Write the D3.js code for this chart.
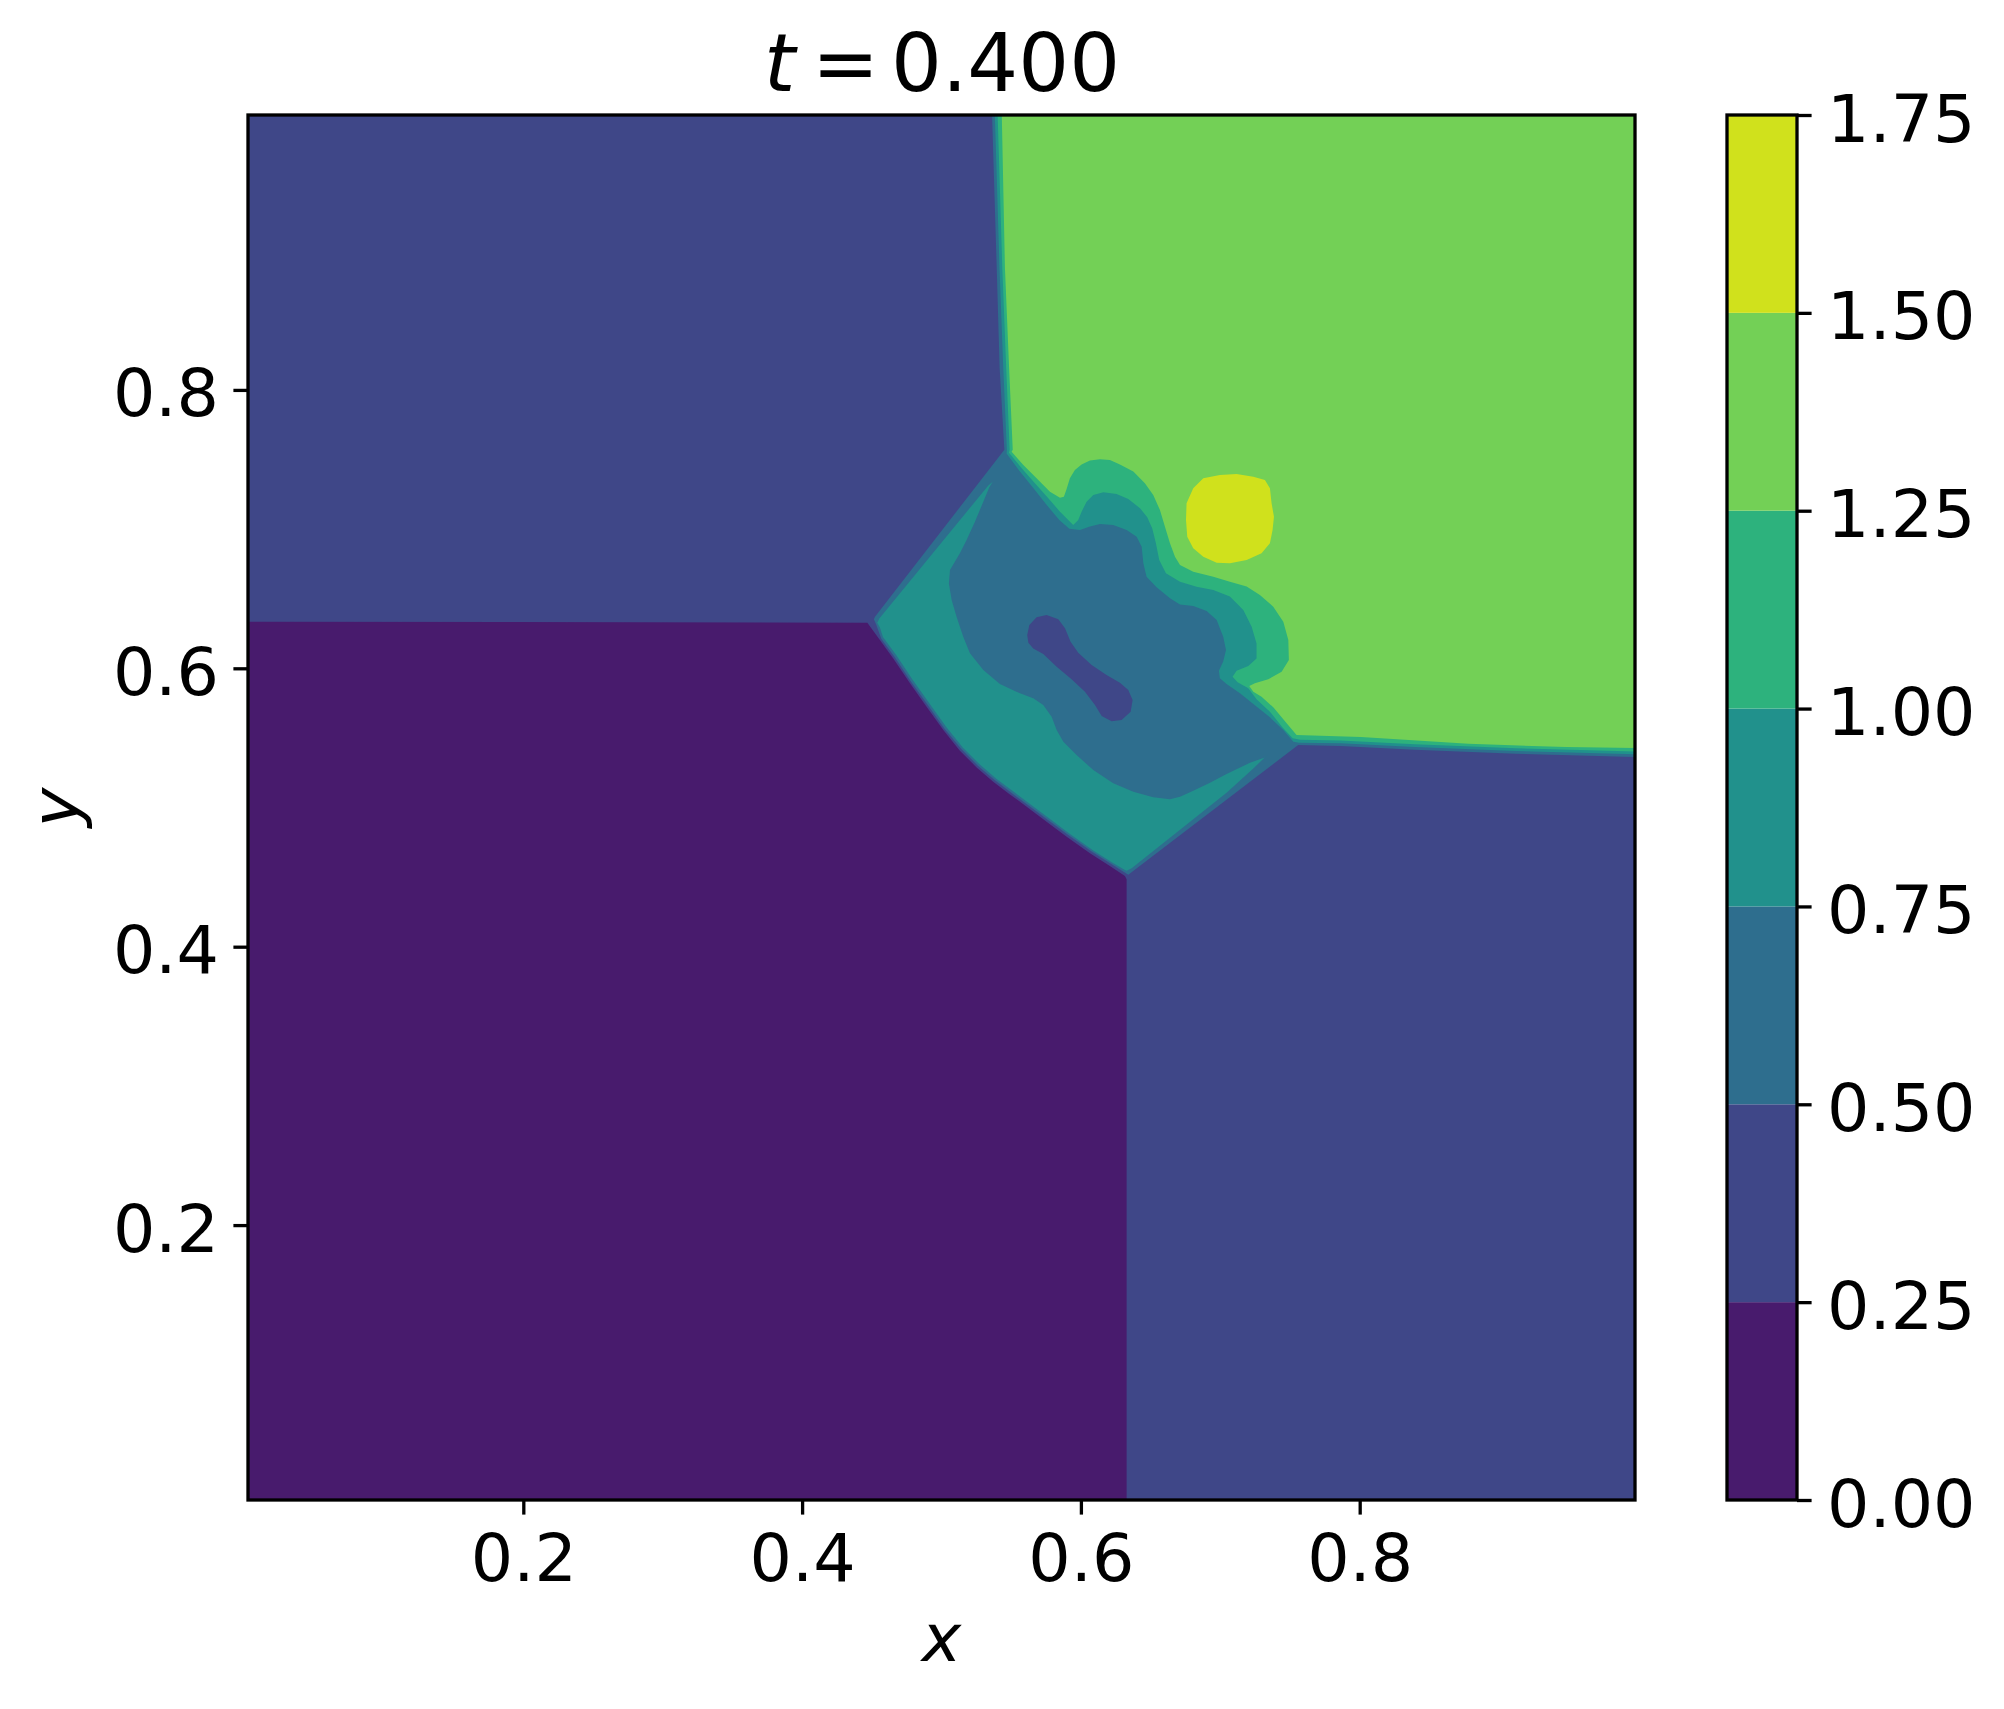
<!DOCTYPE html>
<html><head><meta charset="utf-8">
<script src="https://cdn.jsdelivr.net/npm/d3@7"></script>
<style>body{margin:0;background:#fff}svg{display:block}</style>
</head><body>
<svg id="chart" width="2004" height="1709"></svg>
<script>
// ---------------- data ----------------
const levels = [0, 0.25, 0.5, 0.75, 1.0, 1.25, 1.5, 1.75];
const xTicks = [0.2, 0.4, 0.6, 0.8];
const yTicks = [0.2, 0.4, 0.6, 0.8];
const cbarTicks = [0, 0.25, 0.5, 0.75, 1.0, 1.25, 1.5, 1.75];
const titleTime = "0.400";

// filled-contour regions, data coordinates [x, y]; painted in order
const domainSquare = [[0,0],[1,0],[1,1],[0,1]]; // band 1 (0.25-0.5)
const regionLowerLeft = [[0,0],[0,0.6335],[0.4468,0.6328],[0.4558,0.6203],[0.4654,0.6071],[0.4774,0.5892],[0.4893,0.5724],[0.5013,0.5557],[0.5132,0.5408],[0.5252,0.5288],[0.5371,0.5185],[0.5491,0.5094],[0.5611,0.5006],[0.5754,0.4898],[0.5898,0.4790],[0.6065,0.4671],[0.6208,0.4580],[0.6316,0.4508],[0.6328,0.4484],[0.6328,0]]; // band 0
const regionBand2 = [[0.5362,1],[0.5396,0.888],[0.5417,0.816],[0.5451,0.757],[0.4523,0.6371],[0.4515,0.6352],[0.4530,0.6318],[0.4568,0.6213],[0.4664,0.6081],[0.4783,0.5901],[0.4903,0.5734],[0.5022,0.5566],[0.5142,0.5420],[0.5261,0.5300],[0.5381,0.5197],[0.5501,0.5106],[0.5620,0.5018],[0.5764,0.4910],[0.5907,0.4805],[0.6074,0.4685],[0.6218,0.4594],[0.6323,0.4527],[0.6340,0.4517],[0.7559,0.5449],[0.7863,0.5442],[0.8395,0.5415],[0.9119,0.5386],[1,0.5362],[1,1]];
const regionBand3Wedge = [[0.5367,0.7341],[0.5336,0.7314],[0.4554,0.6357],[0.4539,0.6328],[0.4558,0.6294],[0.4580,0.6225],[0.4676,0.6093],[0.4795,0.5914],[0.4915,0.5746],[0.5034,0.5578],[0.5154,0.5430],[0.5273,0.5310],[0.5393,0.5207],[0.5513,0.5116],[0.5632,0.5027],[0.5776,0.4920],[0.5919,0.4812],[0.6086,0.4692],[0.6230,0.4601],[0.6316,0.4551],[0.6328,0.4546],[0.6364,0.4563],[0.6567,0.4726],[0.6806,0.4915],[0.7045,0.5106],[0.7237,0.5281],[0.7337,0.5377],[0.7320,0.5360],[0.7213,0.5322],[0.7045,0.5241],[0.6926,0.5178],[0.6806,0.5121],[0.6711,0.5078],[0.6639,0.5059],[0.6519,0.5073],[0.6376,0.5114],[0.6232,0.5174],[0.6089,0.5269],[0.5969,0.5377],[0.5874,0.5473],[0.5826,0.5557],[0.5790,0.5652],[0.5730,0.5736],[0.5658,0.5784],[0.5563,0.5820],[0.5419,0.5887],[0.5300,0.5988],[0.5204,0.6108],[0.5156,0.6227],[0.5108,0.6371],[0.5073,0.6491],[0.5053,0.6610],[0.5061,0.6706],[0.5096,0.6766],[0.5132,0.6826],[0.5180,0.6922],[0.5240,0.7053],[0.5300,0.7197],[0.5343,0.7300]];
const regionBand3Upper = [[0.5382,1],[0.5416,0.888],[0.5443,0.816],[0.5469,0.757],[0.5467,0.7544],[0.5558,0.7420],[0.5654,0.7300],[0.5749,0.7180],[0.5845,0.7065],[0.5917,0.7003],[0.5993,0.6994],[0.6065,0.7018],[0.6137,0.7037],[0.6232,0.7029],[0.6328,0.6994],[0.6400,0.6946],[0.6436,0.6874],[0.6448,0.6754],[0.6471,0.6658],[0.6543,0.6582],[0.6639,0.6503],[0.6711,0.6459],[0.6806,0.6448],[0.6902,0.6412],[0.6974,0.6347],[0.7021,0.6227],[0.7041,0.6131],[0.7021,0.6048],[0.6990,0.5983],[0.6997,0.5928],[0.7045,0.5887],[0.7141,0.5820],[0.7237,0.5743],[0.7356,0.5648],[0.7452,0.5557],[0.7524,0.5473],[0.7563,0.5466],[0.7863,0.5462],[0.8395,0.5435],[0.9119,0.5406],[1,0.5382],[1,1]];
const regionBand4 = [[0.5402,1],[0.5436,0.888],[0.5464,0.816],[0.5489,0.757],[0.5484,0.7549],[0.5575,0.7437],[0.5670,0.7329],[0.5766,0.7221],[0.5850,0.7125],[0.5909,0.7065],[0.5945,0.7029],[0.5981,0.7065],[0.6005,0.7125],[0.6041,0.7197],[0.6089,0.7245],[0.6161,0.7264],[0.6256,0.7252],[0.6340,0.7216],[0.6424,0.7149],[0.6476,0.7085],[0.6512,0.7005],[0.6538,0.6898],[0.6562,0.6778],[0.6610,0.6682],[0.6711,0.6622],[0.6830,0.6586],[0.6950,0.6562],[0.7069,0.6515],[0.7165,0.6419],[0.7225,0.6299],[0.7260,0.6179],[0.7260,0.6071],[0.7201,0.6016],[0.7117,0.5983],[0.7088,0.5940],[0.7124,0.5899],[0.7201,0.5856],[0.7260,0.5777],[0.7356,0.5688],[0.7447,0.5574],[0.7519,0.5497],[0.7575,0.5486],[0.7863,0.5482],[0.8395,0.5455],[0.9119,0.5426],[1,0.5402],[1,1]];
const regionBand5 = [[0.5432,1],[0.5455,0.888],[0.5485,0.816],[0.5511,0.757],[0.5503,0.7556],[0.5587,0.7461],[0.5682,0.7365],[0.5778,0.7269],[0.5850,0.7226],[0.5878,0.7233],[0.5897,0.7286],[0.5921,0.7365],[0.5957,0.7425],[0.6005,0.7465],[0.6065,0.7492],[0.6137,0.7501],[0.6208,0.7496],[0.6280,0.7465],[0.6376,0.7413],[0.6459,0.7329],[0.6519,0.7245],[0.6567,0.7137],[0.6603,0.7017],[0.6639,0.6898],[0.6675,0.6802],[0.6711,0.6742],[0.6806,0.6694],[0.6950,0.6658],[0.7069,0.6622],[0.7189,0.6587],[0.7284,0.6527],[0.7380,0.6443],[0.7452,0.6335],[0.7488,0.6203],[0.7492,0.6060],[0.7440,0.5976],[0.7344,0.5921],[0.7248,0.5892],[0.7208,0.5873],[0.7237,0.5832],[0.7296,0.5796],[0.7380,0.5720],[0.7476,0.5605],[0.7547,0.5521],[0.8009,0.5507],[0.8781,0.5458],[0.9480,0.5434],[1,0.5427],[1,1]];
const regionBand6 = [[0.6806,0.7293],[0.6878,0.7365],[0.6997,0.7389],[0.7117,0.7396],[0.7237,0.7377],[0.7320,0.7353],[0.7356,0.7293],[0.7368,0.7185],[0.7385,0.7089],[0.7375,0.6994],[0.7356,0.6898],[0.7296,0.6826],[0.7189,0.6778],[0.7069,0.6754],[0.6974,0.6759],[0.6878,0.6802],[0.6806,0.6862],[0.6763,0.6946],[0.6754,0.7065],[0.6758,0.7185]];
const regionDumbbell = [[0.5615,0.6239],[0.5630,0.6311],[0.5682,0.6366],[0.5754,0.6383],[0.5838,0.6352],[0.5886,0.6287],[0.5926,0.6191],[0.5981,0.6112],[0.6077,0.6024],[0.6184,0.5952],[0.6280,0.5897],[0.6340,0.5844],[0.6371,0.5772],[0.6357,0.5688],[0.6292,0.5629],[0.6220,0.5619],[0.6149,0.5657],[0.6101,0.5736],[0.6029,0.5832],[0.5933,0.5921],[0.5826,0.6012],[0.5730,0.6103],[0.5658,0.6143],[0.5623,0.6184]]; // band 1

const layers = [
  {pts: domainSquare, band: 1},
  {pts: regionLowerLeft, band: 0},
  {pts: regionBand2, band: 2},
  {pts: regionBand3Wedge, band: 3},
  {pts: regionBand3Upper, band: 3},
  {pts: regionBand4, band: 4},
  {pts: regionBand5, band: 5},
  {pts: regionBand6, band: 6},
  {pts: regionDumbbell, band: 1}
];

// ---------------- drawing ----------------
const W = 2004, H = 1709;
const plot = {left: 248, right: 1635, top: 115, bottom: 1500};
const cbar = {left: 1727, right: 1797, top: 115, bottom: 1500};
const FONT = "'DejaVu Sans', sans-serif";
const FS = 66.7, LW = 3.3, TL = 14.6;

const svg = d3.select('#chart');
svg.append('rect').attr('width', W).attr('height', H).attr('fill', '#fff');

const x = d3.scaleLinear().domain([0.0025, 0.9975]).range([plot.left, plot.right]);
const y = d3.scaleLinear().domain([0.0025, 0.9975]).range([plot.bottom, plot.top]);
const vmin = levels[0], vmax = levels[levels.length - 1];
const bandColor = i => d3.interpolateViridis(((levels[i] + levels[i + 1]) / 2 - vmin) / (vmax - vmin));

svg.append('defs').append('clipPath').attr('id', 'clip')
  .append('rect').attr('x', plot.left).attr('y', plot.top)
  .attr('width', plot.right - plot.left).attr('height', plot.bottom - plot.top);

const line = d3.line().x(d => x(d[0])).y(d => y(d[1]));
const gPlot = svg.append('g').attr('clip-path', 'url(#clip)');
gPlot.selectAll('path').data(layers).join('path')
  .attr('d', d => line(d.pts) + 'Z')
  .attr('fill', d => bandColor(d.band));

function styleAxis(g) {
  g.select('.domain').remove();
  g.attr('font-family', FONT).attr('font-size', FS);
  g.selectAll('line').attr('stroke', '#000').attr('stroke-width', LW);
  g.selectAll('text').attr('fill', '#000');
}

svg.append('g').attr('transform', `translate(0,${plot.bottom})`)
  .call(d3.axisBottom(x).tickValues(xTicks).tickSize(TL).tickPadding(19).tickFormat(d3.format('.1f')))
  .call(styleAxis);

svg.append('g').attr('transform', `translate(${plot.left},0)`)
  .call(d3.axisLeft(y).tickValues(yTicks).tickSize(TL).tickPadding(14.4).tickFormat(d3.format('.1f')))
  .call(styleAxis)
  .call(g => g.selectAll('text').attr('dy', '0.39em'));

svg.append('rect').attr('x', plot.left).attr('y', plot.top)
  .attr('width', plot.right - plot.left).attr('height', plot.bottom - plot.top)
  .attr('fill', 'none').attr('stroke', '#000').attr('stroke-width', LW);

// colorbar
const c = d3.scaleLinear().domain([vmin, vmax]).range([cbar.bottom, cbar.top]);
svg.append('g').selectAll('rect').data(d3.range(levels.length - 1)).join('rect')
  .attr('x', cbar.left).attr('width', cbar.right - cbar.left)
  .attr('y', i => c(levels[i + 1])).attr('height', i => c(levels[i]) - c(levels[i + 1]))
  .attr('fill', i => bandColor(i));
svg.append('g').attr('transform', `translate(${cbar.right},0)`)
  .call(d3.axisRight(c).tickValues(cbarTicks).tickSize(TL).tickPadding(15.4).tickFormat(d3.format('.2f')))
  .call(styleAxis)
  .call(g => g.selectAll('text').attr('dy', '0.39em'));
svg.append('rect').attr('x', cbar.left).attr('y', cbar.top)
  .attr('width', cbar.right - cbar.left).attr('height', cbar.bottom - cbar.top)
  .attr('fill', 'none').attr('stroke', '#000').attr('stroke-width', LW);

// labels
svg.append('text').attr('x', (plot.left + plot.right) / 2).attr('y', 1661)
  .attr('text-anchor', 'middle').attr('font-family', FONT).attr('font-size', FS)
  .attr('font-style', 'italic').text('x');
svg.append('text').attr('transform', `translate(78,${(plot.top + plot.bottom) / 2}) rotate(-90)`)
  .attr('text-anchor', 'middle').attr('font-family', FONT).attr('font-size', FS)
  .attr('font-style', 'italic').text('y');

// title  t = 0.400
const TFS = 80;
const title = svg.append('g').attr('font-family', FONT).attr('font-size', TFS);
title.append('text').attr('x', 764).attr('y', 91).attr('font-style', 'italic').text('t');
title.append('text').attr('x', 812).attr('y', 91).text('=');
title.append('text').attr('x', 891).attr('y', 91).text(titleTime);
</script>
</body></html>
